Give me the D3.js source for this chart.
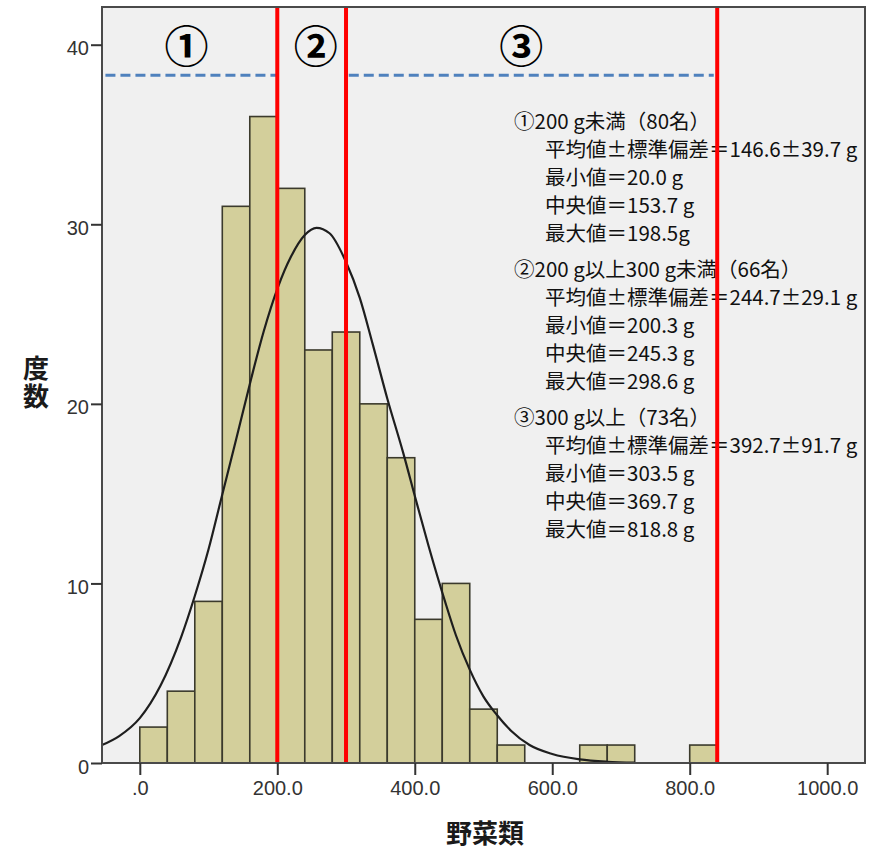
<!DOCTYPE html>
<html>
<head>
<meta charset="utf-8">
<script src="https://cdn.jsdelivr.net/npm/d3@7"></script>
<style>
  body { margin: 0; background: #ffffff; }
  svg { display: block; }
</style>
</head>
<body>
<svg id="chart" width="879" height="851"></svg>
<script>
// ---------------- DATA ----------------
const binWidth = 40;
const binStart = [0, 40, 80, 120, 160, 200, 240, 280, 320, 360, 400, 440, 480, 520, 560, 600, 640, 680, 720, 760, 800];
const binCount = [2, 4, 9, 31, 36, 32, 23, 24, 20, 17, 8, 10, 3, 1, 0, 0, 1, 1, 0, 0, 1];

// fitted normal curve
const curveX = [-55, -30, 0, 30, 60, 80, 100, 119, 140, 162, 180, 201, 220, 240, 257, 276, 300, 320, 339, 360, 383, 402, 420, 444, 460, 480, 500, 519, 540, 567, 600, 640, 680, 720];
const curveY = [1.0, 1.5, 2.5, 4.3, 7.0, 9.3, 11.9, 14.8, 18.0, 21.4, 24.0, 26.5, 28.2, 29.4, 29.8, 29.5, 27.9, 25.9, 23.3, 20.3, 17.3, 14.6, 12.1, 9.0, 7.1, 5.2, 3.7, 2.7, 1.8, 1.0, 0.5, 0.2, 0.07, 0.02];

const xTicks = [0, 200, 400, 600, 800, 1000];
const xTickLabels = [".0", "200.0", "400.0", "600.0", "800.0", "1000.0"];
const yTicks = [0, 10, 20, 30, 40];
const yTickLabels = ["0", "10", "20", "30", "40"];

const cutoffs = [200, 300, 840];
const refLevel = 38.3;

const groupMarks = ["①", "②", "③"];
const groupHeaders = ["①200 g未満（80名）", "②200 g以上300 g未満（66名）", "③300 g以上（73名）"];
const groupMean = ["146.6", "244.7", "392.7"];
const groupSD = ["39.7", "29.1", "91.7"];
const groupMin = ["20.0 g", "200.3 g", "303.5 g"];
const groupMedian = ["153.7 g", "245.3 g", "369.7 g"];
const groupMax = ["198.5g", "298.6 g", "818.8 g"];

const xTitle = "野菜類";
const yTitle = "度数";

// ---------------- LAYOUT ----------------
const plot = { left: 102, right: 865, top: 7, bottom: 763 };
const jpFont = "'Noto Sans CJK JP', 'Noto Sans CJK SC', sans-serif";
const numFont = "'Liberation Sans', Arial, sans-serif";

const svg = d3.select("#chart");

const x = d3.scaleLinear().domain([-55, 1055]).range([plot.left, plot.right]);
const y = d3.scaleLinear().domain([0, 42.1]).range([plot.bottom, plot.top]);

// plot background
svg.append("rect")
  .attr("x", plot.left).attr("y", plot.top)
  .attr("width", plot.right - plot.left).attr("height", plot.bottom - plot.top)
  .attr("fill", "#f0f0f0");

// bars
const bins = binStart.map((s, i) => ({ x0: s, x1: s + binWidth, n: binCount[i] })).filter(d => d.n > 0);
svg.append("g").selectAll("rect").data(bins).join("rect")
  .attr("x", d => x(d.x0))
  .attr("y", d => y(d.n))
  .attr("width", d => x(d.x1) - x(d.x0))
  .attr("height", d => y(0) - y(d.n))
  .attr("fill", "#d3cf9b")
  .attr("stroke", "#3b3a2c")
  .attr("stroke-width", 1.6);

// normal curve
const curvePts = curveX.map((v, i) => [v, curveY[i]]);
svg.append("path")
  .datum(curvePts)
  .attr("d", d3.line().x(d => x(d[0])).y(d => y(d[1])).curve(d3.curveMonotoneX))
  .attr("fill", "none")
  .attr("stroke", "#1e1e1e")
  .attr("stroke-width", 2.2);

// dashed reference line (interrupted in group 2)
const dashSegs = [[x.domain()[0] + 5, cutoffs[0]], [cutoffs[1] + 4, cutoffs[2] - 5]];
svg.append("g").selectAll("line").data(dashSegs).join("line")
  .attr("x1", d => x(d[0])).attr("x2", d => x(d[1]))
  .attr("y1", y(refLevel)).attr("y2", y(refLevel))
  .attr("stroke", "#4f81bd")
  .attr("stroke-width", 3)
  .attr("stroke-dasharray", "10,5");

// group marks
const markPos = [x(68), x(256), x(555)];
svg.append("g").selectAll("text").data(groupMarks).join("text")
  .attr("x", (d, i) => markPos[i])
  .attr("y", 44)
  .attr("text-anchor", "middle")
  .attr("dominant-baseline", "central")
  .attr("font-family", jpFont)
  .attr("font-weight", "bold")
  .attr("font-size", 44)
  .attr("fill", "#000")
  .text(d => d);

// annotation block
const ann = svg.append("g").attr("font-family", jpFont).attr("font-size", 20.5).attr("fill", "#111");
const groupTop = [120, 268, 416];
const lineGap = 28;
groupHeaders.forEach((h, i) => {
  const lines = [
    h,
    "平均値±標準偏差＝" + groupMean[i] + "±" + groupSD[i] + " g",
    "最小値＝" + groupMin[i],
    "中央値＝" + groupMedian[i],
    "最大値＝" + groupMax[i]
  ];
  lines.forEach((t, j) => {
    ann.append("text")
      .attr("x", j === 0 ? 514 : 545)
      .attr("y", groupTop[i] + j * lineGap)
      .attr("dominant-baseline", "central")
      .text(t);
  });
});

// red cut lines
svg.append("g").selectAll("line").data(cutoffs).join("line")
  .attr("x1", d => x(d)).attr("x2", d => x(d))
  .attr("y1", plot.top).attr("y2", plot.bottom)
  .attr("stroke", "#ff0000")
  .attr("stroke-width", 4);

// frame
svg.append("rect")
  .attr("x", plot.left).attr("y", plot.top)
  .attr("width", plot.right - plot.left).attr("height", plot.bottom - plot.top)
  .attr("fill", "none")
  .attr("stroke", "#4a4a4a")
  .attr("stroke-width", 2);

// axes
const yAxis = d3.axisLeft(y).tickValues(yTicks).tickFormat((d, i) => yTickLabels[i]).tickSize(11).tickPadding(2).tickSizeOuter(0);
const gy = svg.append("g").attr("transform", `translate(${plot.left},0)`).call(yAxis);
gy.select(".domain").remove();
gy.selectAll(".tick line").attr("stroke", "#333").attr("stroke-width", 2);
gy.selectAll(".tick text").attr("font-family", numFont).attr("font-size", 20).attr("fill", "#333").attr("dy", "0.5em");

const xAxis = d3.axisBottom(x).tickValues(xTicks).tickFormat((d, i) => xTickLabels[i]).tickSize(12).tickPadding(6).tickSizeOuter(0);
const gx = svg.append("g").attr("transform", `translate(0,${plot.bottom})`).call(xAxis);
gx.select(".domain").remove();
gx.selectAll(".tick line").attr("stroke", "#333").attr("stroke-width", 2);
gx.selectAll(".tick text").attr("font-family", numFont).attr("font-size", 20).attr("fill", "#333");

// axis titles
svg.append("text")
  .attr("x", 485).attr("y", 831)
  .attr("text-anchor", "middle")
  .attr("dominant-baseline", "central")
  .attr("font-family", jpFont).attr("font-weight", "bold").attr("font-size", 26)
  .attr("fill", "#1a1a1a")
  .text(xTitle);

// vertical (stacked) y title as one text element
svg.append("text")
  .attr("x", 36)
  .attr("y", 383)
  .attr("writing-mode", "vertical-rl")
  .style("writing-mode", "vertical-rl")
  .style("text-orientation", "upright")
  .attr("text-anchor", "middle")
  .attr("letter-spacing", 2)
  .attr("font-family", jpFont).attr("font-weight", "bold").attr("font-size", 26)
  .attr("fill", "#1a1a1a")
  .text(yTitle);
</script>
</body>
</html>
